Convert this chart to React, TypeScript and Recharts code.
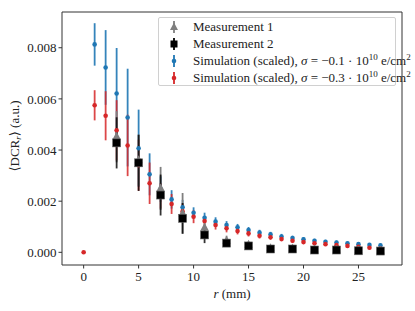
import React from 'react';
import { ScatterChart, Scatter, XAxis, YAxis, ErrorBar, ReferenceLine } from 'recharts';

const simR = [1, 2, 3, 4, 5, 6, 7, 8, 9, 10, 11, 12, 13, 14, 15, 16, 17, 18, 19, 20, 21, 22, 23, 24, 25, 26, 27];
const blueVals = [0.00813, 0.00723, 0.00621, 0.00527, 0.00407, 0.00305, 0.00247, 0.00207, 0.00176, 0.00155, 0.00135, 0.0012, 0.00107, 0.00098, 0.00087, 0.00077, 0.0007, 0.00062, 0.00056, 0.00051, 0.00045, 0.00041, 0.00038, 0.00035, 0.00032, 0.00029, 0.00027];
const blueErr = [0.00083, 0.00146, 0.00178, 0.00191, 0.00151, 0.00082, 0.0005, 0.00036, 0.00029, 0.00021, 0.0002, 0.00017, 0.00015, 0.00013, 0.00012, 0.00011, 0.0001, 0.0001, 0.00009, 0.00009, 0.00008, 0.00008, 0.00008, 0.00007, 0.00007, 0.00007, 0.00007];

const redR = [0, 1, 2, 3, 4, 5, 6, 7, 8, 9, 10, 11, 12, 13, 14, 15, 16, 17, 18, 19, 20, 21, 22, 23, 24, 25, 26, 27];
const redVals = [0, 0.00575, 0.00534, 0.00477, 0.00418, 0.00341, 0.0027, 0.00221, 0.00189, 0.0016, 0.00139, 0.00122, 0.00107, 0.00094, 0.00083, 0.00074, 0.00065, 0.00059, 0.00052, 0.00045, 0.0004, 0.00035, 0.00032, 0.00028, 0.00025, 0.00022, 0.00018, 0.00015];
const redErr = [0, 0.00059, 0.00096, 0.00118, 0.0012, 0.001, 0.00081, 0.0005, 0.00039, 0.0003, 0.00025, 0.0002, 0.00018, 0.00016, 0.00013, 0.00012, 0.00011, 0.0001, 0.00009, 0.00008, 0.00008, 0.00007, 0.00007, 0.00006, 0.00006, 0.00006, 0.00006, 0.00006];

const measR = [3, 5, 7, 9, 11, 13, 15, 17, 19, 21, 23, 25, 27];
const meas1Vals = [0.00452, 0.0036, 0.0025, 0.00152, 0.00096, 0.00045, 0.0003, 0.00016, 0.00015, 0.00011, 0.0001, 0.00007, 0.00006];
const meas1Err = [0.001, 0.001, 0.00084, 0.0008, 0.0003, 0.0002, 0.0001, 0.00006, 0.00006, 0.00005, 0.00005, 0.00004, 0.00004];
const meas2Vals = [0.00428, 0.0035, 0.00224, 0.00133, 0.00068, 0.00036, 0.00025, 0.00013, 0.00013, 0.00009, 0.00009, 0.00006, 0.00005];
const meas2Err = [0.001, 0.0011, 0.0008, 0.0006, 0.00032, 0.00012, 0.00008, 0.00005, 0.00005, 0.00005, 0.00005, 0.00004, 0.00004];

const xTicks = [0, 5, 10, 15, 20, 25];
const yTicks = [0, 0.002, 0.004, 0.006, 0.008];
const xDomain = [-1.97, 28.96];
const yDomain = [-0.000496, 0.009398];

const blueData = simR.map((r, i) => ({ r, v: blueVals[i], e: blueErr[i] }));
const redData = redR.map((r, i) => ({ r, v: redVals[i], e: redErr[i] }));
const meas1Data = measR.map((r, i) => ({ r, v: meas1Vals[i], e: meas1Err[i] }));
const meas2Data = measR.map((r, i) => ({ r, v: meas2Vals[i], e: meas2Err[i] }));

const BLUE = '#1f77b4';
const RED = '#d62728';
const GREY = '#7f7f7f';
const FONT = 'Liberation Serif, DejaVu Serif, serif';

const dot = (color: string) => (p: any) => <circle cx={p.cx} cy={p.cy} r={2.3} fill={color} />;
const triangle = (p: any) => (
  <polygon points={`${p.cx},${p.cy - 5} ${p.cx - 4.3},${p.cy + 3} ${p.cx + 4.3},${p.cy + 3}`} fill={GREY} />
);
const square = (p: any) => (
  <rect x={p.cx - 4} y={p.cy - 4} width={8} height={8} fill="#000" stroke="#666" strokeWidth={0.6} />
);

const YLabel = () => (
  <text x={16} y={136} transform="rotate(-90 16 136)" textAnchor="middle" dominantBaseline="middle" fontFamily={FONT} fontSize={13} fill="#222">
    ⟨DCR<tspan fontStyle="italic" fontSize={9} dy={3}>r</tspan><tspan dy={-3}>⟩ (a.u.)</tspan>
  </text>
);

const XLabel = () => (
  <text x={232} y={298} textAnchor="middle" fontFamily={FONT} fontSize={13} fill="#222">
    <tspan fontStyle="italic">r</tspan> (mm)
  </text>
);

const LegendMark = ({ kind, color }: { kind: string; color: string }) => (
  <svg width={12} height={14} style={{ position: 'absolute', left: 9, top: 1.5 }}>
    <line x1={6} y1={1} x2={6} y2={13} stroke={color} strokeWidth={1.8} />
    {kind === 'tri' && <polygon points="6,2.5 2,10 10,10" fill={color} />}
    {kind === 'sq' && <rect x={2.5} y={3.5} width={7} height={7} fill={color} />}
    {kind === 'dot' && <circle cx={6} cy={7} r={2.3} fill={color} />}
  </svg>
);

const sigma = (val: string) => (
  <>
    Simulation (scaled), <i>σ</i> = −{val} · 10<sup style={{ fontSize: 9, lineHeight: 0 }}>10</sup> e/cm<sup style={{ fontSize: 9, lineHeight: 0 }}>2</sup>
  </>
);

const legendRows = [
  { kind: 'tri', color: GREY, label: <>Measurement 1</> },
  { kind: 'sq', color: '#000', label: <>Measurement 2</> },
  { kind: 'dot', color: BLUE, label: sigma('0.1') },
  { kind: 'dot', color: RED, label: sigma('0.3') },
];

export default function App() {
  return (
    <div style={{ position: 'absolute', left: 0, top: 0, width: 415, height: 311, background: '#fff' }}>
      <ScatterChart width={415} height={311} margin={{ top: 12, right: 13, bottom: 0, left: 0 }}>
        <XAxis
          type="number"
          dataKey="r"
          domain={xDomain}
          allowDataOverflow
          ticks={xTicks}
          tickSize={3.5}
          tickMargin={3}
          height={46}
          stroke="#333"
          tick={{ fontSize: 13, fill: '#222', fontFamily: FONT }}
        />
        <YAxis
          type="number"
          dataKey="v"
          domain={yDomain}
          allowDataOverflow
          ticks={yTicks}
          tickFormatter={(v: number) => v.toFixed(3)}
          tickSize={3.5}
          tickMargin={2}
          width={62}
          stroke="#333"
          tick={{ fontSize: 13, fill: '#222', fontFamily: FONT }}
        />
        <ReferenceLine y={yDomain[1]} stroke="#333" strokeWidth={1} ifOverflow="visible" />
        <ReferenceLine x={xDomain[1]} stroke="#333" strokeWidth={1} ifOverflow="visible" />
        <Scatter data={blueData} dataKey="v" shape={dot(BLUE)} isAnimationActive={false}>
          <ErrorBar dataKey="e" direction="y" width={0} stroke={BLUE} strokeWidth={1.8} strokeOpacity={0.9} />
        </Scatter>
        <Scatter data={redData} dataKey="v" shape={dot(RED)} isAnimationActive={false}>
          <ErrorBar dataKey="e" direction="y" width={0} stroke={RED} strokeWidth={1.8} strokeOpacity={0.85} />
        </Scatter>
        <Scatter data={meas1Data} dataKey="v" shape={triangle} isAnimationActive={false}>
          <ErrorBar dataKey="e" direction="y" width={0} stroke={GREY} strokeWidth={1.8} />
        </Scatter>
        <Scatter data={meas2Data} dataKey="v" shape={square} isAnimationActive={false}>
          <ErrorBar dataKey="e" direction="y" width={0} stroke="#000" strokeWidth={1.8} strokeOpacity={0.8} />
        </Scatter>
        <YLabel />
        <XLabel />
      </ScatterChart>
      <div
        style={{
          position: 'absolute',
          left: 158,
          top: 17,
          width: 238,
          height: 69,
          border: '1px solid #d0d0d0',
          borderRadius: 2,
          background: 'rgba(255,255,255,0.85)',
          boxSizing: 'border-box',
          fontFamily: FONT,
          fontSize: 13,
          color: '#222',
        }}
      >
        {legendRows.map((row, i) => (
          <div key={i} style={{ position: 'absolute', left: 0, top: 0 + i * 17, height: 17, width: '100%' }}>
            <LegendMark kind={row.kind} color={row.color} />
            <span style={{ position: 'absolute', left: 34, top: 0, whiteSpace: 'nowrap', lineHeight: '17px' }}>{row.label}</span>
          </div>
        ))}
      </div>
    </div>
  );
}
